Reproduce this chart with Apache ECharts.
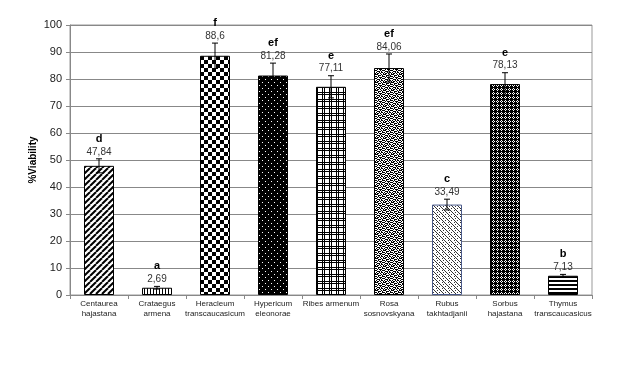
<!DOCTYPE html>
<html><head><meta charset="utf-8">
<script src="https://cdn.jsdelivr.net/npm/echarts@6/dist/echarts.min.js"></script>
<style>html,body{margin:0;padding:0;background:#fff}#c{width:640px;height:375px}</style>
</head><body><div id="c"></div>
<script>
const categories = ['Centaurea\nhajastana','Crataegus\narmena','Heracleum\ntranscaucasicum','Hypericum\neleonorae','Ribes armenum','Rosa\nsosnovskyana','Rubus\ntakhtadjanii','Sorbus\nhajastana','Thymus\ntranscaucasicus'];
const viability = [47.84, 2.69, 88.6, 81.28, 77.11, 84.06, 33.49, 78.13, 7.13];
const errors = [2.6, 0.5, 4.7, 4.6, 4.1, 5.2, 2.0, 4.2, 0.5];
const letters = ['d','a','f','ef','e','ef','c','e','b'];
const yTicks = {min:0, max:100, interval:10};

function mk(w,h,bg,draw){
  const c=document.createElement('canvas');c.width=w;c.height=h;
  const g=c.getContext('2d');g.fillStyle=bg;g.fillRect(0,0,w,h);draw(g,w,h);
  return {image:c, repeat:'repeat'};
}
function bitmap(rows, fg, bg){
  return mk(rows[0].length, rows.length, bg, g=>{
    g.fillStyle=fg;
    rows.forEach((r,y)=>{for(let x=0;x<r.length;x++) if(r[x]==='1') g.fillRect(x,y,1,1);});
  });
}
const patterns = [
  mk(6,6,'#fff',g=>{g.strokeStyle='#000';g.lineWidth=2;[-6,0,6].forEach(o=>{g.beginPath();g.moveTo(o,6);g.lineTo(o+6,0);g.stroke();});}),
  bitmap(['100'], '#000', '#fff'),
  bitmap(['11110000','11110000','11110000','11110000','00001111','00001111','00001111','00001111'], '#000', '#fff'),
  bitmap(['000000','010000','000000','000000','000010','000000'], '#fff', '#000'),
  bitmap(['1010000','1111111','1010000','1111111','1010000','1010000','1010000'], '#000', '#fff'),
  bitmap(['10010110','01101001','11000101','00111010','10100011','01011100','10001011','01110100'], '#000', '#fff'),
  bitmap(['100010','010000','001001','000100','010010','000001'], '#333', '#fff'),
  bitmap(['1011','0101','1011','1111'], '#000', '#fff'),
  bitmap(['1','1','0','0'], '#000', '#fff')
];
const borders = ['#000','#000','#000','#000','#000','#000','#4a5a8a','#000','#000'];
const fmt = v => String(v).replace('.', ',');

const chart = echarts.init(document.getElementById('c'), null, {renderer:'canvas'});
chart.setOption({
  animation:false,
  backgroundColor:'#fff',
  textStyle:{fontFamily:'Liberation Sans, Arial, sans-serif'},
  grid:{left:70, right:48, top:25, bottom:80, show:true, borderColor:'#999', borderWidth:1},
  xAxis:{type:'category', data:categories,
    axisLine:{lineStyle:{color:'#888'}},
    axisTick:{show:true, alignWithLabel:false, length:4, lineStyle:{color:'#888'}},
    axisLabel:{interval:0, fontSize:8, lineHeight:10, color:'#222', margin:4}},
  yAxis:{type:'value', min:yTicks.min, max:yTicks.max, interval:yTicks.interval,
    name:'%Viability', nameLocation:'middle', nameGap:32, nameMoveOverlap:false,
    nameTextStyle:{fontWeight:'bold', fontSize:10, color:'#000'},
    axisLine:{show:true, lineStyle:{color:'#888'}},
    axisTick:{show:true, length:4, lineStyle:{color:'#888'}},
    axisLabel:{fontSize:11, color:'#222', margin:8},
    splitLine:{lineStyle:{color:'#888', width:1}}},
  series:[
    {type:'bar', barWidth:30,
     data: viability.map((v,i)=>({value:v, itemStyle:{color:patterns[i], borderColor:borders[i], borderWidth:1}}))},
    {type:'custom', z:5,
     data: viability.map((v,i)=>[i, v, errors[i]]),
     renderItem:(params, api)=>{
       const i=api.value(0), v=api.value(1), e=api.value(2);
       const top=api.coord([i, v+e]), bot=api.coord([i, v-e]);
       const x=top[0], cap=3;
       const ls={stroke:'#000', lineWidth:1};
       return {type:'group', children:[
         {type:'line', shape:{x1:x,y1:top[1],x2:x,y2:bot[1]}, style:ls},
         {type:'line', shape:{x1:x-cap,y1:top[1],x2:x+cap,y2:top[1]}, style:ls},
         {type:'line', shape:{x1:x-cap,y1:bot[1],x2:x+cap,y2:bot[1]}, style:ls},
         {type:'text', style:{text:fmt(v), x:x, y:top[1]-7, align:'center', verticalAlign:'middle', fontSize:10, fontFamily:'Liberation Sans, Arial', fill:'#333'}},
         {type:'text', style:{text:letters[params.dataIndex], x:x, y:top[1]-20, align:'center', verticalAlign:'middle', fontSize:11, fontWeight:'bold', fontFamily:'Liberation Sans, Arial', fill:'#000'}}
       ]};
     }}
  ]
});
</script></body></html>
